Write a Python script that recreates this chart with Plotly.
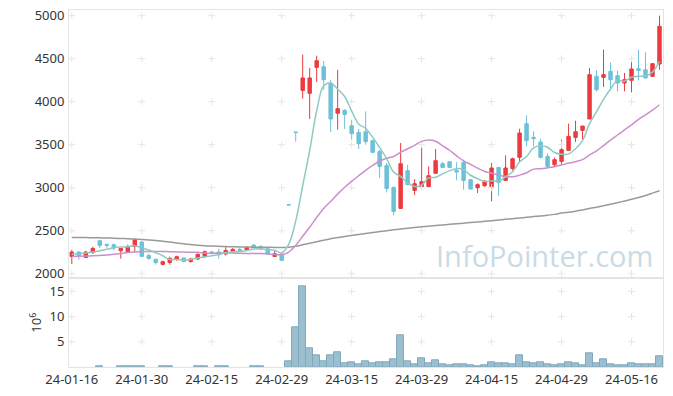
import pandas as pd
import numpy as np
import plotly.graph_objects as go
from plotly.subplots import make_subplots

# ---- data ----
holidays = ['2024-02-09', '2024-02-12', '2024-03-01', '2024-04-10',
            '2024-05-01', '2024-05-06', '2024-05-15']
dates = [d for d in pd.bdate_range('2024-01-16', '2024-05-22')
         if d.strftime('%Y-%m-%d') not in holidays]

opens = [2201, 2252, 2190, 2248, 2384, 2341, 2337, 2267, 2252, 2317,
         2368, 2213, 2167, 2109, 2131, 2167, 2183, 2143, 2171, 2198,
         2252, 2252, 2229, 2259, 2283, 2275, 2333, 2314, 2291, 2201,
         2229, 2802, 3648, 4131, 4097, 4399, 4407, 4217, 3866, 3899,
         3721, 3643, 3651, 3547, 3422, 3256, 3003, 2759, 3198, 2969,
         3012, 3012, 3167, 3279, 3302, 3201, 3294, 3093, 3000, 3023,
         3015, 3236, 3085, 3221, 3353, 3744, 3585, 3531, 3364, 3267,
         3306, 3434, 3585, 3666, 3799, 4295, 4283, 4353, 4302, 4217,
         4248, 4384, 4372, 4295, 4438]
highs = [2279, 2259, 2267, 2314, 2384, 2352, 2352, 2294, 2337, 2407,
         2380, 2233, 2178, 2151, 2198, 2210, 2190, 2185, 2235, 2270,
         2270, 2291, 2317, 2298, 2306, 2318, 2345, 2333, 2295, 2265,
         2229, 2802, 3648, 4547, 4392, 4535, 4473, 4256, 4370, 3915,
         3791, 3683, 3887, 3560, 3442, 3287, 3015, 3520, 3267, 3101,
         3473, 3248, 3450, 3300, 3310, 3298, 3326, 3100, 3050, 3090,
         3287, 3236, 3376, 3350, 3686, 3841, 3655, 3570, 3400, 3350,
         3558, 3744, 3779, 3717, 4392, 4365, 4605, 4457, 4360, 4334,
         4527, 4605, 4574, 4450, 5000]
lows = [2113, 2163, 2183, 2229, 2299, 2299, 2271, 2174, 2240, 2252,
        2195, 2163, 2105, 2097, 2105, 2150, 2135, 2128, 2160, 2185,
        2225, 2174, 2213, 2240, 2255, 2270, 2300, 2280, 2229, 2201,
        2150, 2800, 3535, 4035, 3799, 4229, 4140, 3648, 3674, 3683,
        3558, 3450, 3500, 3400, 3113, 2945, 2678, 2759, 3035, 2915,
        3012, 3012, 3167, 3236, 3236, 3085, 2977, 2980, 2938, 3010,
        2841, 2907, 3085, 3200, 3299, 3481, 3481, 3340, 3230, 3250,
        3267, 3434, 3531, 3558, 3799, 4120, 4171, 4159, 4120, 4120,
        4109, 4248, 4268, 4290, 4372]
closes = [2252, 2213, 2252, 2294, 2329, 2331, 2299, 2294, 2314, 2395,
          2201, 2178, 2131, 2140, 2178, 2198, 2143, 2171, 2225, 2256,
          2244, 2221, 2271, 2283, 2270, 2306, 2306, 2287, 2229, 2233,
          2155, 2800, 3643, 4276, 4276, 4477, 4256, 3799, 3919, 3852,
          3628, 3512, 3535, 3411, 3248, 2992, 2724, 3279, 3035, 3047,
          3070, 3140, 3314, 3236, 3236, 3182, 3085, 2985, 3035, 3074,
          3229, 3062, 3229, 3337, 3636, 3547, 3570, 3353, 3248, 3326,
          3442, 3597, 3651, 3717, 4314, 4140, 4314, 4256, 4217, 4256,
          4380, 4364, 4276, 4442, 4876]
volumes = [0, 0, 0, 0, 0.15, 0, 0, 0.15, 0.15, 0.15,
           0.15, 0, 0, 0.15, 0.15, 0, 0, 0, 0.15, 0.15,
           0, 0.15, 0.15, 0, 0, 0, 0.15, 0.15, 0, 0,
           0, 1.2, 7.95, 16.1, 3.8, 2.4, 1.1, 2.4, 2.9, 0.7,
           0.9, 0.5, 1.1, 0.7, 0.9, 0.9, 1.5, 6.2, 1.1, 0.5,
           1.7, 0.7, 1.3, 0.5, 0.3, 0.5, 0.5, 0.3, 0.05, 0.3,
           0.9, 0.7, 0.7, 0.5, 2.3, 0.9, 0.7, 0.9, 0.5, 0.3,
           0.5, 0.9, 0.7, 0.3, 2.7, 0.7, 1.5, 0.5, 0.3, 0.3,
           0.7, 0.5, 0.5, 0.5, 2.1]  # unit: 10^6

# moving-average values before enough in-window history
ma5_head = [2229, 2233, 2240, 2252]
ma20_head = [2201, 2203, 2206, 2209, 2213, 2218, 2226, 2236, 2246, 2253,
             2257, 2259, 2259, 2258, 2256, 2254, 2252, 2250, 2249]
ma120 = [2422, 2421, 2420, 2419, 2417, 2415, 2413, 2410, 2407, 2403,
         2398, 2392, 2385, 2377, 2368, 2358, 2348, 2339, 2331, 2325,
         2321, 2318, 2316, 2314, 2312, 2311, 2309, 2308, 2307, 2306,
         2305, 2309, 2320, 2337, 2355, 2372, 2390, 2406, 2420, 2433,
         2445, 2457, 2468, 2479, 2490, 2500, 2510, 2520, 2530, 2538,
         2546, 2553, 2560, 2567, 2574, 2581, 2588, 2595, 2602, 2609,
         2616, 2624, 2632, 2640, 2648, 2656, 2664, 2672, 2680, 2690,
         2705, 2715, 2727, 2742, 2757, 2774, 2791, 2808, 2826, 2845,
         2865, 2887, 2910, 2937, 2965]

price_ticks = [2000, 2500, 3000, 3500, 4000, 4500, 5000]
vol_ticks = [5, 10, 15]
tick_every = 10

# ---- derived ----
n = len(closes)
idx = list(range(n))
cs = pd.Series(closes, dtype=float)
ma5 = cs.rolling(5).mean().tolist()
ma5[:len(ma5_head)] = ma5_head
ma20 = cs.rolling(20).mean().tolist()
ma20[:len(ma20_head)] = ma20_head

xt = idx[::tick_every]
xt_text = [dates[i].strftime('%y-%m-%d') for i in xt]

RED = '#ec3b3f'
BLUE = '#6cc1d9'
FONT = dict(family='Noto Sans', size=13, color='#333333')

fig = make_subplots(rows=2, cols=1, shared_xaxes=True, vertical_spacing=0,
                    row_heights=[0.7515, 0.2485])

# grid crosses
CROSS = dict(symbol='cross-thin', size=5, line=dict(color='#e6e6e6', width=1))
gx = [x for x in xt for _ in price_ticks]
gy = [y for _ in xt for y in price_ticks]
fig.add_trace(go.Scatter(x=gx, y=gy, mode='markers', hoverinfo='skip',
                         marker=CROSS), row=1, col=1)
gx2 = [x for x in xt for _ in vol_ticks]
gy2 = [y for _ in xt for y in vol_ticks]
fig.add_trace(go.Scatter(x=gx2, y=gy2, mode='markers', hoverinfo='skip',
                         marker=CROSS), row=2, col=1)

fig.add_trace(go.Candlestick(
    x=idx, open=opens, high=highs, low=lows, close=closes,
    increasing=dict(line=dict(color=RED, width=1), fillcolor=RED),
    decreasing=dict(line=dict(color=BLUE, width=1), fillcolor=BLUE),
    whiskerwidth=0), row=1, col=1)

fig.add_trace(go.Scatter(x=idx, y=ma120, mode='lines',
                         line=dict(color='#9a9a9a', width=1.5, shape='spline')),
              row=1, col=1)
fig.add_trace(go.Scatter(x=idx, y=ma20, mode='lines',
                         line=dict(color='#cc8fc9', width=1.5, shape='spline')),
              row=1, col=1)
fig.add_trace(go.Scatter(x=idx, y=ma5, mode='lines',
                         line=dict(color='#8ecac3', width=1.5, shape='spline')),
              row=1, col=1)

fig.add_trace(go.Bar(x=idx, y=volumes, width=1,
                     marker=dict(color='#9bbfcf',
                                 line=dict(color='#80a9bd',
                                           width=[1 if v > 0 else 0 for v in volumes]))),
              row=2, col=1)

axis_common = dict(showgrid=False, zeroline=False, showline=True, mirror=True,
                   linecolor='#e4e4e4', linewidth=1, tickfont=FONT,
                   automargin=False)

fig.update_xaxes(range=[-0.4, 84.5], **axis_common)
fig.update_xaxes(showticklabels=False, rangeslider_visible=False, row=1, col=1)
fig.update_xaxes(tickmode='array', tickvals=xt, ticktext=xt_text, row=2, col=1)
fig.update_yaxes(range=[1947, 5066], tickmode='array', tickvals=price_ticks,
                 ticktext=[str(v) for v in price_ticks],
                 ticks='outside', ticklen=1, tickcolor='rgba(0,0,0,0)',
                 row=1, col=1, **axis_common)
fig.update_yaxes(range=[0, 17.6], tickmode='array', tickvals=vol_ticks,
                 ticks='outside', ticklen=1, tickcolor='rgba(0,0,0,0)',
                 title=dict(text='10<sup>6</sup>', font=FONT, standoff=4),
                 row=2, col=1, **axis_common)

fig.add_annotation(text='InfoPointer.com', xref='paper', yref='paper',
                   x=0.9865, y=0.312, xanchor='right', yanchor='middle',
                   showarrow=False,
                   font=dict(family='Open Sans', size=29, color='#c9dbe5'))

fig.update_layout(width=673, height=396, showlegend=False,
                  margin=dict(l=69, r=10, t=10, b=29),
                  plot_bgcolor='white', paper_bgcolor='white',
                  bargap=0, font=FONT)

fig.write_html('out.html', config={'displayModeBar': False},
               post_script="document.body.style.margin='0';document.body.style.overflow='hidden';")
